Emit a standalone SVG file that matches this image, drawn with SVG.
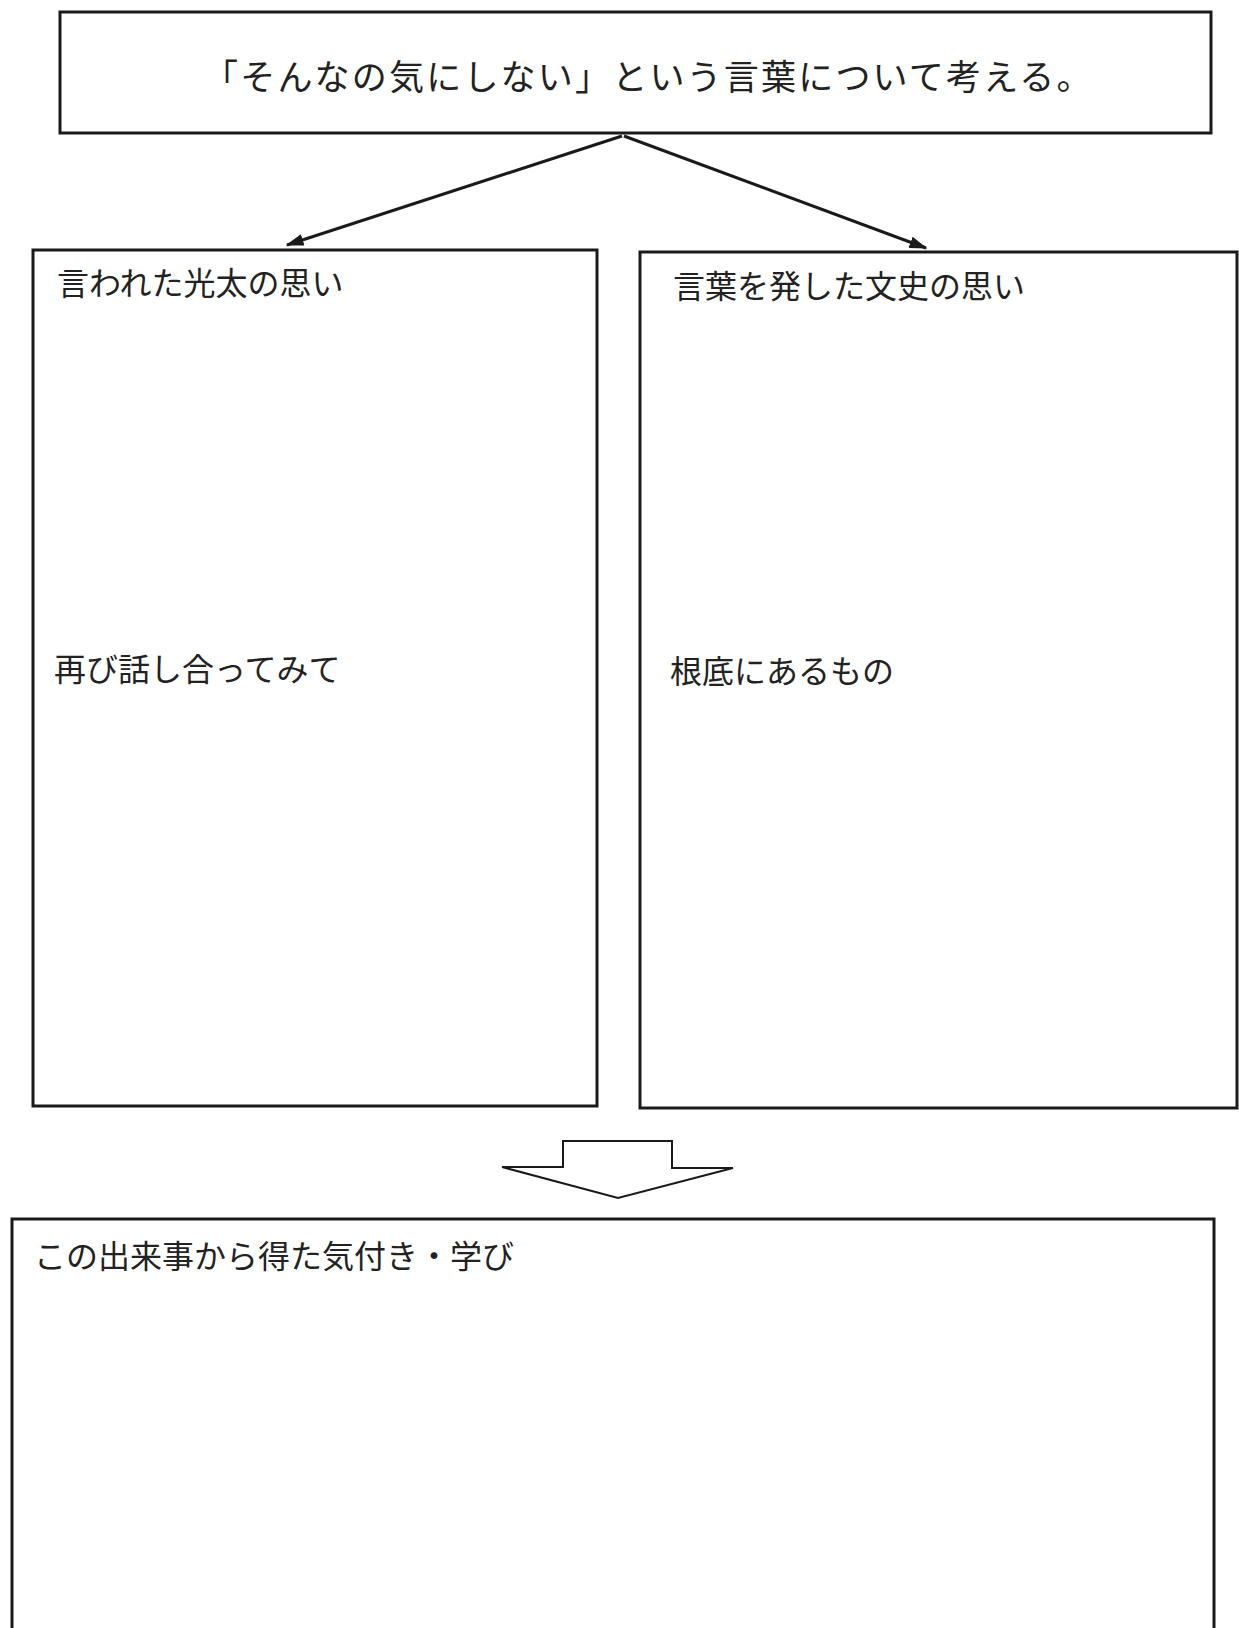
<svg xmlns="http://www.w3.org/2000/svg" width="1239" height="1628" viewBox="0 0 1239 1628">
<style>
.box{fill:none;stroke:#1a1a1a;stroke-width:3}
.lbl{font-family:"Noto Sans CJK JP","Noto Sans CJK SC",sans-serif;font-size:32px;fill:#222}
.title{font-family:"Noto Sans CJK JP","Noto Sans CJK SC",sans-serif;font-size:35px;letter-spacing:2.2px;fill:#222}
.conn{stroke:#1a1a1a;stroke-width:3;fill:none}
</style>
<defs>
<marker id="ah" viewBox="0 0 12 8" refX="11" refY="4" markerWidth="6" markerHeight="5" markerUnits="strokeWidth" orient="auto">
<path d="M0,0 L12,4 L0,8 z" fill="#1a1a1a"/>
</marker>
</defs>
<rect width="1239" height="1628" fill="#fff"/>
<g id="node-title">
<rect class="box" x="60" y="12" width="1151" height="121"/>
<text class="title" x="203" y="90">「そんなの気にしない」という言葉について考える。</text>
</g>
<g id="node-kota">
<rect class="box" x="33" y="250" width="564" height="856"/>
<text class="lbl" x="57" y="295">言われた光太の思い</text>
<text class="lbl" x="54" y="681">再び話し合ってみて</text>
</g>
<g id="node-fumi">
<rect class="box" x="640" y="252" width="597" height="856"/>
<text class="lbl" x="673" y="298">言葉を発した文史の思い</text>
<text class="lbl" x="670" y="683">根底にあるもの</text>
</g>
<g id="node-learning">
<rect class="box" x="12" y="1219" width="1202" height="430"/>
<text class="lbl" x="34" y="1268">この出来事から得た気付き・学び</text>
</g>
<g id="connectors">
<line class="conn" x1="622" y1="136" x2="287" y2="245" marker-end="url(#ah)"/>
<line class="conn" x1="624" y1="136" x2="926" y2="248" marker-end="url(#ah)"/>
<polygon points="563,1141 672,1141 672,1168 733,1168 618,1198 502,1167 563,1167" fill="#fff" stroke="#1a1a1a" stroke-width="2"/>
</g>
</svg>
